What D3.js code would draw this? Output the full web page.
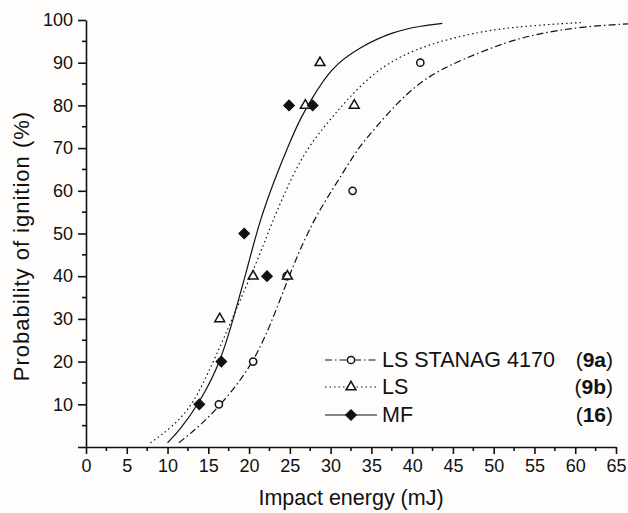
<!DOCTYPE html>
<html>
<head>
<meta charset="utf-8">
<script src="https://cdn.jsdelivr.net/npm/d3@7"></script>
<style>
  html, body { margin: 0; padding: 0; background: #fefdfb; }
  text { font-family: "Liberation Sans", Arial, sans-serif; fill: #111; }
</style>
</head>
<body>
<div id="chart"></div>
<script>
// measured points
var stanagE = [16.3, 20.5, 24.6, 32.7, 41.0];
var stanagP = [10, 20, 40, 60, 90];
var lsE = [16.4, 20.5, 24.7, 26.9, 28.7, 32.9];
var lsP = [30, 40, 40, 80, 90, 80];
var mfE = [13.9, 16.6, 19.4, 22.2, 24.9, 27.8];
var mfP = [10, 20, 50, 40, 80, 80];

// fitted curves
var stanagFitE = [11.4, 14.0, 16.6, 20.8, 23.8, 25.5, 27.9, 30.3, 32.2, 33.6, 35.6, 38.5, 41.8, 45.9, 51.6, 55.7, 60.6, 66.5];
var stanagFitP = [1, 5, 10, 20, 34.4, 43, 53.2, 60.5, 66.4, 70.5, 75, 81.3, 86.7, 90.6, 94.9, 96.9, 98.4, 99.1];
var lsFitE = [7.9, 10.5, 13.2, 15.6, 17.5, 18.9, 20.7, 22.3, 23.8, 26.6, 29.9, 32.0, 35.6, 39.7, 43.4, 47.5, 51.6, 57.7, 61.0];
var lsFitP = [1, 4.5, 10, 20, 28, 34.4, 42.2, 50, 57.1, 68.8, 76.6, 81.3, 88.3, 92.6, 95, 96.9, 98.2, 99.1, 99.4];
var mfFitE = [10.0, 11.5, 13.8, 16.6, 18.7, 19.8, 21.3, 23.2, 24.8, 26.2, 27.5, 30.1, 33.6, 37.7, 41.0, 43.7];
var mfFitP = [1, 4, 10, 20, 34.4, 42, 53, 63, 70.5, 76.6, 81, 89, 93.7, 97.3, 98.6, 99.2];

var xTicks = d3.range(0, 66, 5);
var yTicks = d3.range(10, 101, 10);

var legendNames = ["LS STANAG 4170", "LS", "MF"];
var legendRefs = ["9a", "9b", "16"];

var width = 628, height = 513;
var svg = d3.select("#chart").append("svg")
  .attr("width", width)
  .attr("height", height);

var x = d3.scaleLinear().domain([0, 65]).range([86, 616]);
var y = d3.scaleLinear().domain([0, 100]).range([447, 20]);

var axisW = 1.6;

// axes
var xAxis = svg.append("g")
  .attr("transform", "translate(0," + y(0) + ")")
  .call(d3.axisBottom(x).tickValues(xTicks).tickSize(7).tickPadding(5).tickSizeOuter(0));
xAxis.append("g").selectAll("line")
  .data(d3.range(2.5, 65, 5))
  .enter().append("line")
  .attr("x1", function(d) { return x(d); })
  .attr("x2", function(d) { return x(d); })
  .attr("y2", 4)
  .attr("stroke", "#111");

var yAxis = svg.append("g")
  .attr("transform", "translate(" + x(0) + ",0)")
  .call(d3.axisLeft(y).tickValues([0].concat(yTicks)).tickFormat(function(d) { return d === 0 ? "" : d; })
    .tickSize(8).tickPadding(5).tickSizeOuter(0));
yAxis.append("g").selectAll("line")
  .data(d3.range(5, 100, 10))
  .enter().append("line")
  .attr("y1", function(d) { return y(d); })
  .attr("y2", function(d) { return y(d); })
  .attr("x2", -4)
  .attr("stroke", "#111");

svg.selectAll(".domain").attr("stroke", "#111").attr("stroke-width", axisW);
svg.selectAll(".tick line").attr("stroke", "#111").attr("stroke-width", axisW);
svg.selectAll("g line").attr("stroke-width", axisW);
svg.selectAll(".tick text")
  .style("font-family", "'Liberation Sans', Arial, sans-serif")
  .style("font-size", "18px")
  .attr("fill", "#111");

svg.append("text")
  .attr("x", x(32.5))
  .attr("y", 505)
  .attr("text-anchor", "middle")
  .style("font-size", "21.5px")
  .text("Impact energy (mJ)");

svg.append("text")
  .attr("transform", "translate(29,246) rotate(-90)")
  .attr("text-anchor", "middle")
  .style("font-size", "22px")
  .style("letter-spacing", "1px")
  .text("Probability of ignition (%)");

// fitted curves
var line = d3.line()
  .x(function(d) { return x(d[0]); })
  .y(function(d) { return y(d[1]); })
  .curve(d3.curveBasis);

var styles = [
  { dash: "7,3,1.5,3", sym: "circle" },
  { dash: "1.5,3", sym: "triangle" },
  { dash: null, sym: "diamond" }
];

var fits = [d3.zip(stanagFitE, stanagFitP), d3.zip(lsFitE, lsFitP), d3.zip(mfFitE, mfFitP)];
fits.forEach(function(pts, i) {
  svg.append("path")
    .attr("d", line(pts))
    .attr("fill", "none")
    .attr("stroke", "#111")
    .attr("stroke-width", 1.2)
    .attr("stroke-dasharray", styles[i].dash);
});

function drawSymbol(g, kind, cx, cy) {
  if (kind === "circle") {
    g.append("circle").attr("cx", cx).attr("cy", cy).attr("r", 3.6)
      .attr("fill", "#fff").attr("stroke", "#111").attr("stroke-width", 1.5);
  } else if (kind === "triangle") {
    g.append("path").attr("d", d3.symbol().type(d3.symbolTriangle).size(42)())
      .attr("transform", "translate(" + cx + "," + cy + ")")
      .attr("fill", "#fff").attr("stroke", "#111").attr("stroke-width", 1.5);
  } else {
    g.append("path").attr("d", d3.symbol().type(d3.symbolSquare).size(58)())
      .attr("transform", "translate(" + cx + "," + cy + ") rotate(45)")
      .attr("fill", "#111").attr("stroke", "#111").attr("stroke-width", 1);
  }
}

var points = [d3.zip(stanagE, stanagP), d3.zip(lsE, lsP), d3.zip(mfE, mfP)];
points.forEach(function(pts, i) {
  var g = svg.append("g");
  pts.forEach(function(p) { drawSymbol(g, styles[i].sym, x(p[0]), y(p[1])); });
});

// legend
var legendY = [367, 394, 422];
legendNames.forEach(function(name, i) {
  var g = svg.append("g");
  g.append("line")
    .attr("x1", 325).attr("x2", 377)
    .attr("y1", legendY[i] - 7).attr("y2", legendY[i] - 7)
    .attr("stroke", "#111").attr("stroke-width", 1.2)
    .attr("stroke-dasharray", styles[i].dash);
  drawSymbol(g, styles[i].sym, 351, legendY[i] - 7);
  g.append("text")
    .attr("x", 382).attr("y", legendY[i])
    .style("font-size", "21.5px")
    .text(name);
  var t = g.append("text")
    .attr("x", 613).attr("y", legendY[i])
    .attr("text-anchor", "end")
    .style("font-size", "21px");
  t.append("tspan").text("(");
  t.append("tspan").style("font-weight", "bold").text(legendRefs[i]);
  t.append("tspan").text(")");
});
</script>
</body>
</html>
